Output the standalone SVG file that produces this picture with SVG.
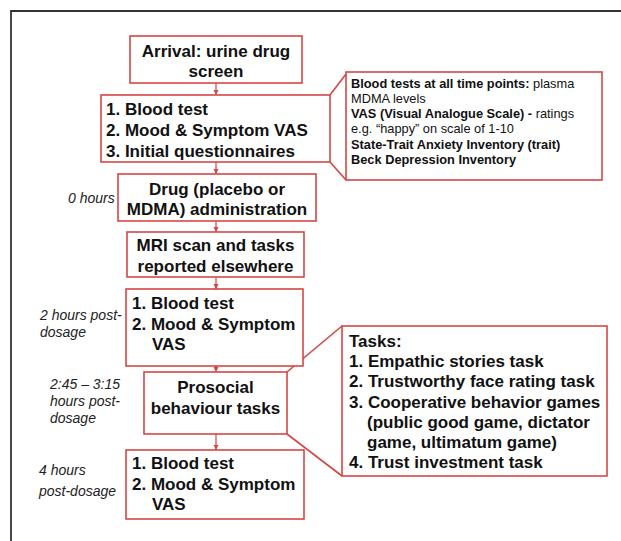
<svg xmlns="http://www.w3.org/2000/svg" width="621" height="541" viewBox="0 0 621 541">
<style>
.box{fill:#fff;stroke:#d64545;stroke-width:1.6}
.wedge{fill:none;stroke:#d64545;stroke-width:1.6}
.conn{stroke:#d64545;stroke-width:1.2;fill:none}
.t{font-family:"Liberation Sans",Arial,sans-serif;font-weight:bold;font-size:17px;fill:#111}
.c{text-anchor:middle}
.s{font-family:"Liberation Sans",Arial,sans-serif;font-size:12.8px;fill:#111}
.b{font-weight:bold}
.lab{font-family:"Liberation Sans",Arial,sans-serif;font-style:italic;font-size:14px;fill:#222}
</style>
<defs>
<marker id="ah" markerWidth="6" markerHeight="6" refX="5" refY="3" orient="auto" markerUnits="userSpaceOnUse">
<path d="M0,0.5 L5,3 L0,5.5 Z" fill="#d64545"/>
</marker>
</defs>
<rect width="621" height="541" fill="#fff"/>
<path d="M11,541 L11,11 L621,11" fill="none" stroke="#333" stroke-width="1.8"/>

<g id="connectors">
<line class="conn" x1="216" y1="83" x2="216" y2="95" marker-end="url(#ah)"/>
<line class="conn" x1="216" y1="162" x2="216" y2="174" marker-end="url(#ah)"/>
<line class="conn" x1="216" y1="221" x2="216" y2="232" marker-end="url(#ah)"/>
<line class="conn" x1="216" y1="277" x2="216" y2="289" marker-end="url(#ah)"/>
<line class="conn" x1="216" y1="366" x2="216" y2="372" marker-end="url(#ah)"/>
<line class="conn" x1="216" y1="434" x2="216" y2="450" marker-end="url(#ah)"/>
<polyline class="wedge" points="330,95 346,74"/>
<polyline class="wedge" points="330,162 346,180"/>
<polyline class="wedge" points="287,372 342,326"/>
<polyline class="wedge" points="287,434 342,476"/>
</g>

<g id="arrival">
<rect class="box" x="130" y="36" width="172" height="47"/>
<text class="t c" x="216" y="57">Arrival: urine drug</text>
<text class="t c" x="216" y="77">screen</text>
</g>

<g id="baseline">
<rect class="box" x="101" y="95" width="229" height="67"/>
<text class="t" x="106" y="115">1. Blood test</text>
<text class="t" x="106" y="135.5">2. Mood &amp; Symptom VAS</text>
<text class="t" x="106" y="156.5">3. Initial questionnaires</text>
</g>

<g id="info">
<rect class="box" x="346" y="72" width="256" height="108"/>
<text class="s" x="351" y="87.5"><tspan class="b">Blood tests at all time points:</tspan> plasma</text>
<text class="s" x="351" y="102.5">MDMA levels</text>
<text class="s" x="351" y="118"><tspan class="b">VAS (Visual Analogue Scale) -</tspan> ratings</text>
<text class="s" x="351" y="133">e.g. “happy” on scale of 1-10</text>
<text class="s b" x="351" y="148.5">State-Trait Anxiety Inventory (trait)</text>
<text class="s b" x="351" y="164">Beck Depression Inventory</text>
</g>

<g id="drug">
<text class="lab" x="68" y="203">0 hours</text>
<rect class="box" x="118" y="174" width="198" height="47"/>
<text class="t c" x="217" y="194.5">Drug (placebo or</text>
<text class="t c" x="217" y="214.5">MDMA) administration</text>
</g>

<g id="mri">
<rect class="box" x="127" y="232" width="177" height="45"/>
<text class="t c" x="215.5" y="251">MRI scan and tasks</text>
<text class="t c" x="215.5" y="272">reported elsewhere</text>
</g>

<g id="two-hours">
<text class="lab" x="40" y="320">2 hours post-</text>
<text class="lab" x="40" y="337">dosage</text>
<rect class="box" x="126" y="289" width="177" height="77"/>
<text class="t" x="132" y="309">1. Blood test</text>
<text class="t" x="132" y="329.5">2. Mood &amp; Symptom</text>
<text class="t" x="152" y="350">VAS</text>
</g>

<g id="prosocial">
<text class="lab" x="50" y="389">2:45 – 3:15</text>
<text class="lab" x="50" y="406">hours post-</text>
<text class="lab" x="50" y="423">dosage</text>
<rect class="box" x="144" y="372" width="143" height="62"/>
<text class="t c" x="215.5" y="393">Prosocial</text>
<text class="t c" x="215.5" y="413.5">behaviour tasks</text>
</g>

<g id="tasks">
<rect class="box" x="342" y="326" width="265" height="150"/>
<text class="t" x="349" y="347">Tasks:</text>
<text class="t" x="349" y="367.2">1. Empathic stories task</text>
<text class="t" x="349" y="387.4">2. Trustworthy face rating task</text>
<text class="t" x="349" y="407.6">3. Cooperative behavior games</text>
<text class="t" x="367" y="427.8">(public good game, dictator</text>
<text class="t" x="367" y="448">game, ultimatum game)</text>
<text class="t" x="349" y="468.2">4. Trust investment task</text>
</g>

<g id="four-hours">
<text class="lab" x="39" y="475">4 hours</text>
<text class="lab" x="39" y="496">post-dosage</text>
<rect class="box" x="126" y="450" width="178" height="69"/>
<text class="t" x="132" y="469">1. Blood test</text>
<text class="t" x="132" y="490">2. Mood &amp; Symptom</text>
<text class="t" x="152" y="510">VAS</text>
</g>
</svg>
